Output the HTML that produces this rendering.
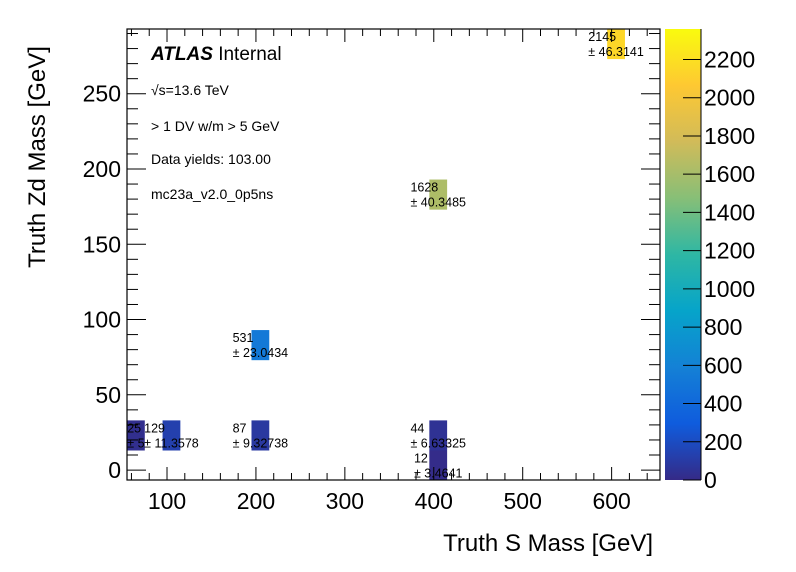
<!DOCTYPE html>
<html><head><meta charset="utf-8"><style>
body{margin:0;background:#fff;}
svg{display:block;font-family:"Liberation Sans",Arial,sans-serif;}
</style></head><body>
<svg id="c" width="796" height="572" xmlns="http://www.w3.org/2000/svg"></svg>
<script>
const xCenters=[65,105,205,205,405,405,405,605];
const yCenters=[23,23,23,83,23,3,183,283];
const counts=[25,129,87,531,44,12,1628,2145];
const errors=["5","11.3578","9.32738","23.0434","6.63325","3.4641","40.3485","46.3141"];
const xTicks=[100,200,300,400,500,600];
const yTicks=[0,50,100,150,200,250];
const zTicks=[0,200,400,600,800,1000,1200,1400,1600,1800,2000,2200];
const binW=20, binH=20;

const X0=127,X1=660,Y0=29,Y1=480;
const xMin=55,xMax=654.4,yMin=-6.6,yMax=293,zMax=2359.5;
const sx=v=>X0+(v-xMin)/(xMax-xMin)*(X1-X0);
const sy=v=>Y1-(v-yMin)/(yMax-yMin)*(Y1-Y0);
const CB0=665,CB1=701;
const sz=v=>Y1-v/zMax*(Y1-Y0);
const stops=[[0.2082,0.1664,0.5293],[0.0592,0.3599,0.8684],[0.0780,0.5041,0.8385],[0.0232,0.6419,0.7914],[0.1802,0.7178,0.6425],[0.5301,0.7492,0.4662],[0.8186,0.7328,0.3499],[0.9956,0.7862,0.1968],[0.9764,0.9832,0.0539]];
function col(t){t=Math.max(0,Math.min(1,t));const f=t*8,i=Math.min(7,Math.floor(f)),u=f-i;
const a=stops[i],b=stops[i+1];return 'rgb('+[0,1,2].map(k=>Math.round(255*(a[k]+(b[k]-a[k])*u))).join(',')+')';}
const svg=document.getElementById('c');const NS='http://www.w3.org/2000/svg';
function el(tag,attrs,parent){const e=document.createElementNS(NS,tag);for(const k in attrs)e.setAttribute(k,attrs[k]);(parent||svg).appendChild(e);return e;}
function txt(s,attrs,parent){const e=el('text',attrs,parent);e.textContent=s;return e;}

const defs=el('defs',{});const lg=el('linearGradient',{id:'g',x1:0,y1:1,x2:0,y2:0},defs);
for(let i=0;i<=40;i++){el('stop',{offset:i/40,'stop-color':col(i/40)},lg);}
const cb=el('rect',{x:CB0,y:Y0,width:CB1-CB0,height:Y1-Y0,fill:'url(#g)'});


el('line',{x1:CB1,y1:Y0,x2:CB1,y2:Y1,stroke:'#000','stroke-width':1});
zTicks.forEach(v=>{const y=sz(v);
el('line',{x1:683,x2:CB1,y1:y,y2:y,stroke:'#000','stroke-width':1});
const t=txt(String(v),{x:704,y:y+8,'font-size':23});

});

for(let i=0;i<counts.length;i++){
const x=sx(xCenters[i]-binW/2),w=sx(xCenters[i]+binW/2)-x;
let yt=sy(yCenters[i]+binH/2),yb=Math.min(Y1,sy(yCenters[i]-binH/2));
const r=el('rect',{x:x,y:yt,width:w,height:yb-yt,fill:col(counts[i]/zMax)});


}
for(let i=0;i<counts.length;i++){
const cx=sx(xCenters[i]),cy=sy(yCenters[i]);
const t2=txt('± '+errors[i],{x:cx,y:cy+12,'font-size':12.5});


const len=t2.getComputedTextLength();
const lx=cx-len/2;
t2.setAttribute('x',lx);
const t1=txt(String(counts[i]),{x:lx,y:cy-3,'font-size':12.5});


}

const fr=el('rect',{x:X0,y:Y0,width:X1-X0,height:Y1-Y0,fill:'none',stroke:'#000','stroke-width':1.2});


for(let v=60;v<=xMax;v+=20){const x=sx(v);const L=(v%100===0)?13:7;
el('line',{x1:x,x2:x,y1:Y1,y2:Y1-L,stroke:'#000'});el('line',{x1:x,x2:x,y1:Y0,y2:Y0+L,stroke:'#000'});}
xTicks.forEach(v=>{const t=txt(String(v),{x:sx(v),y:509,'font-size':23,'text-anchor':'middle'});

});
for(let v=0;v<=yMax;v+=10){const y=sy(v);const L=(v%50===0)?19:11;
el('line',{x1:X0,x2:X0+L,y1:y,y2:y,stroke:'#000'});el('line',{x1:X1,x2:X1-L,y1:y,y2:y,stroke:'#000'});}
yTicks.forEach(v=>{const t=txt(String(v),{x:121,y:sy(v)+8,'font-size':23,'text-anchor':'end'});

});
</script>
<div style="position:absolute;left:0;top:0;width:796px;height:572px;pointer-events:none;font-family:'Liberation Sans',Arial,sans-serif;">
<div style="position:absolute;left:151px;top:44px;font-size:19px;"><b><i>ATLAS</i></b> Internal</div>
<div style="position:absolute;left:151px;top:82px;font-size:14px;">√s=13.6 TeV</div>
<div style="position:absolute;left:151px;top:118px;font-size:14px;">&gt; 1 DV w/m &gt; 5 GeV</div>
<div style="position:absolute;left:151px;top:151px;font-size:14px;">Data yields: 103.00</div>
<div style="position:absolute;left:151px;top:186px;font-size:14px;">mc23a_v2.0_0p5ns</div>
<div style="position:absolute;right:143px;top:530px;font-size:24px;white-space:nowrap;">Truth S Mass [GeV]</div>
<div style="position:absolute;left:38px;top:157px;font-size:24px;white-space:nowrap;transform:translate(-50%,-50%) rotate(-90deg);">Truth Zd Mass [GeV]</div>
</div>
</body></html>
